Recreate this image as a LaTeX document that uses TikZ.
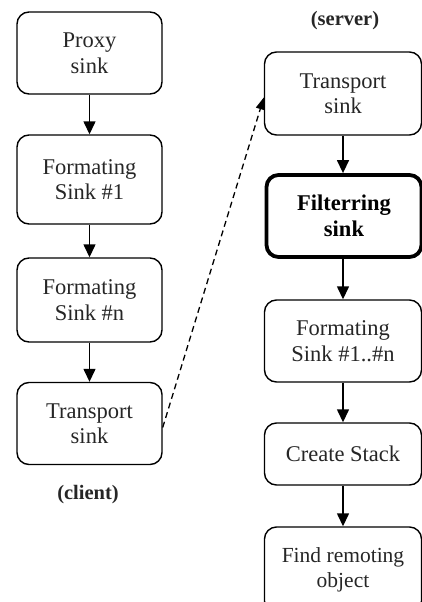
\documentclass[tikz,border=0pt]{standalone}
\usepackage{fontspec}
\setmainfont{Liberation Serif}
\usetikzlibrary{arrows.meta}
\tikzset{
  sinkbox/.style={draw, line width=1.4pt, rounded corners=12pt, align=center, inner sep=0pt,
    font=\fontsize{22.5}{25.5}\selectfont, text=black!85},
  thickbox/.style={sinkbox, line width=3.8pt, font=\fontsize{22.5}{25.5}\selectfont\bfseries, text=black},
  flow/.style={line width=1.4pt, -{Triangle[width=12pt,length=13pt]}},
  remote/.style={line width=1.3pt, dash pattern=on 6pt off 4pt, -{Triangle[width=9pt,length=12pt]}},
  sidelabel/.style={font=\fontsize{20.5}{24}\selectfont\bfseries, text=black!85}
}
\begin{document}
\begin{tikzpicture}[x=1pt,y=1pt]
\useasboundingbox (0,0) rectangle (422,-602);
\clip (0,0) rectangle (422,-602);
% client column
\node[sinkbox, minimum width=145pt, minimum height=82pt] (proxy) at (89.5,-53) {Proxy\\sink};
\node[sinkbox, minimum width=145pt, minimum height=89pt] (fmtone) at (89.5,-179.5) {Formating\\Sink \#1};
\node[sinkbox, minimum width=145pt, minimum height=84pt] (fmtn) at (89.5,-300) {Formating\\Sink \#n};
\node[sinkbox, minimum width=145pt, minimum height=82pt] (ctrans) at (89.5,-423.5) {Transport\\sink};
\node[sidelabel] (client) at (88,-495) {(client)};
% server column
\node[sidelabel] (server) at (345,-21) {(server)};
\node[sinkbox, minimum width=157pt, minimum height=83pt] (strans) at (343,-93.5) {Transport\\sink};
\node[thickbox, minimum width=155pt, minimum height=82pt] (filter) at (344,-216) {Filterring\\sink};
\node[sinkbox, minimum width=157pt, minimum height=82pt] (sfmt) at (343,-341) {Formating\\Sink \#1..\#n};
\node[sinkbox, minimum width=157pt, minimum height=62pt] (create) at (343,-454) {Create Stack};
\node[sinkbox, minimum width=157pt, minimum height=86pt, font=\fontsize{21.5}{25.5}\selectfont] (find) at (343,-570) {Find remoting\\object};
% connectors
\draw[flow] (proxy) -- (fmtone);
\draw[flow] (fmtone) -- (fmtn);
\draw[flow] (fmtn) -- (ctrans);
\draw[flow] (strans) -- (strans |- filter.north);
\draw[flow] (filter.south -| strans) -- (sfmt);
\draw[flow] (sfmt) -- (create);
\draw[flow] (create) -- (find);
\draw[remote] ([yshift=-4pt]ctrans.east) -- ([yshift=-4pt]strans.west);
\end{tikzpicture}
\end{document}
